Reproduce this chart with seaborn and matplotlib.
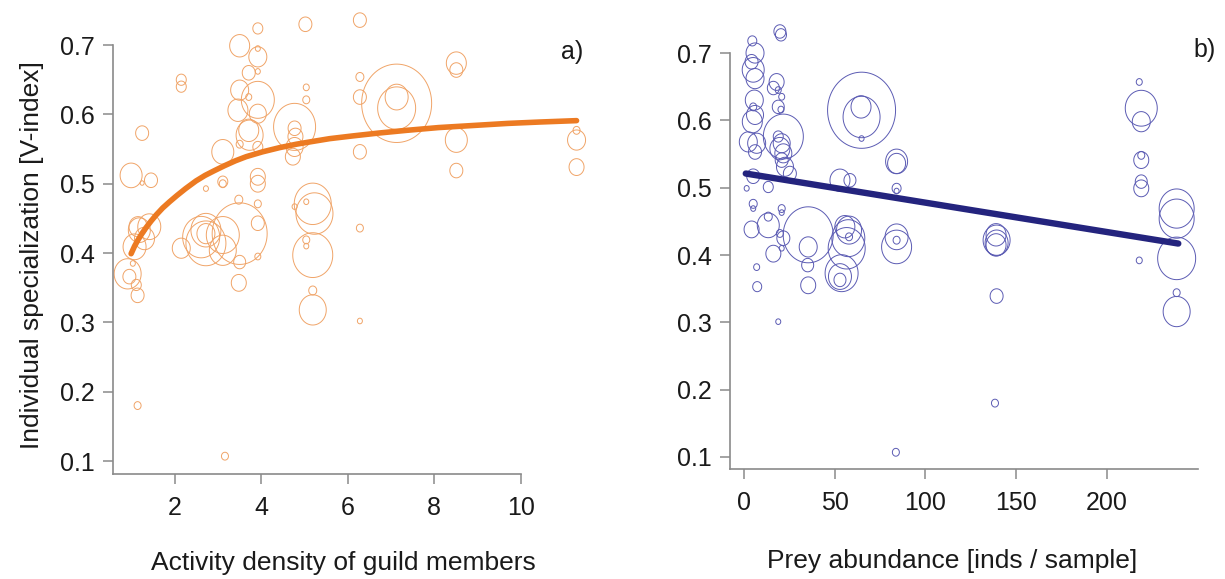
import numpy as np
import pandas as pd
import matplotlib
matplotlib.use("Agg")
import matplotlib.pyplot as plt
from matplotlib.path import Path
import seaborn as sns

# ---- panel a: activity density of guild members ----
a_x = [3.92, 5.02, 3.50, 3.92, 3.92, 3.71, 3.92, 2.15, 2.15, 3.50, 3.92, 3.71, 3.46, 3.92,
       5.04, 5.04, 4.77, 4.77, 4.79, 4.77, 4.73, 3.71, 3.73, 3.50, 3.92, 1.245, 3.11, 0.99,
       1.45, 1.245, 2.72, 3.11, 3.11, 3.92, 3.92, 3.48, 3.92, 5.19, 5.04, 5.23, 4.77, 1.18,
       1.15, 1.30, 1.41, 2.72, 2.72, 2.61, 2.72, 3.11, 3.11, 3.50, 3.92, 3.92, 2.15, 3.50,
       3.48, 5.04, 5.04, 5.19, 5.19, 5.19, 0.91, 0.95, 1.03, 1.11, 1.14, 1.07,
       6.28, 6.28, 6.28, 7.13, 7.13, 7.13, 6.28, 8.51, 8.51, 8.51, 8.51, 6.28, 6.28,
       11.29, 11.29, 11.29, 1.14, 3.16]
a_y = [0.724, 0.730, 0.699, 0.683, 0.695, 0.660, 0.662, 0.650, 0.640, 0.635, 0.621, 0.625, 0.606, 0.601,
       0.639, 0.621, 0.582, 0.580, 0.568, 0.553, 0.539, 0.577, 0.570, 0.557, 0.553, 0.573, 0.546, 0.512,
       0.505, 0.501, 0.493, 0.503, 0.500, 0.510, 0.500, 0.477, 0.471, 0.471, 0.474, 0.457, 0.467, 0.433,
       0.438, 0.421, 0.438, 0.433, 0.428, 0.423, 0.414, 0.426, 0.404, 0.428, 0.443, 0.395, 0.407, 0.387,
       0.357, 0.419, 0.410, 0.397, 0.346, 0.318, 0.370, 0.366, 0.385, 0.354, 0.339, 0.409,
       0.736, 0.654, 0.625, 0.616, 0.625, 0.609, 0.546, 0.674, 0.664, 0.563, 0.519, 0.436, 0.302,
       0.577, 0.563, 0.524, 0.180, 0.107]
# circle diameter (bubble size) per individual
a_weight = [10, 13, 20, 18, 5, 13, 5, 10, 10, 18, 33, 6, 20, 17,
            6, 7, 42, 13, 15, 17, 15, 20, 27, 7, 10, 13, 22, 22,
            13, 4, 5, 10, 7, 15, 15, 8, 7, 37, 5, 37, 5, 22,
            18, 20, 23, 30, 18, 37, 40, 33, 27, 55, 13, 6, 18, 12,
            15, 7, 5, 40, 8, 27, 27, 13, 5, 10, 13, 23,
            13, 8, 13, 70, 23, 38, 13, 20, 13, 22, 13, 7, 5,
            7, 18, 15, 7, 7]
a_curve_x = [0.99, 1.07, 1.15, 1.25, 1.34, 1.45, 1.57, 1.72, 1.88, 2.05, 2.25, 2.49, 2.70,
             2.92, 3.15, 3.40, 3.65, 4.03, 4.42, 4.81, 5.19, 5.58, 6.12, 6.70, 7.36, 8.10,
             8.90, 9.70, 10.44, 11.29]
a_curve_y = [0.399, 0.410, 0.419, 0.429, 0.437, 0.446, 0.455, 0.465, 0.474, 0.483, 0.493, 0.504, 0.512,
             0.519, 0.526, 0.533, 0.539, 0.546, 0.552, 0.557, 0.561, 0.565, 0.569, 0.573, 0.577, 0.581,
             0.584, 0.587, 0.589, 0.591]

# ---- panel b: prey abundance ----
b_x = [4.6, 19.8, 20.4, 6.1, 4.2, 5.1, 6.1, 18.0, 16.2, 18.9, 20.8, 5.7, 5.1, 18.9, 20.4,
       4.6, 6.1, 21.7, 18.9, 20.8, 19.8, 21.7, 20.8, 22.6, 25.3, 2.4, 7.0, 6.1, 1.5, 5.1,
       13.4, 64.8, 64.5, 64.8, 64.8, 84.1, 84.1, 52.9, 58.4, 84.1, 84.1, 5.1, 5.1, 20.8, 20.8,
       13.4, 13.4, 4.2, 35.4, 35.4, 19.8, 21.7, 20.8, 16.2, 7.0, 7.3, 35.1, 35.4, 57.9, 57.5,
       56.6, 57.9, 55.6, 52.9, 52.9, 53.8, 84.1, 84.1, 84.1, 18.9,
       217.8, 218.9, 218.9, 218.9, 218.9, 218.9, 218.9, 217.8, 238.4, 238.4, 238.4, 238.4, 238.4,
       139.2, 138.9, 138.9, 139.2, 139.2, 138.3, 83.7]
b_y = [0.718, 0.732, 0.727, 0.700, 0.687, 0.675, 0.662, 0.657, 0.648, 0.645, 0.635, 0.630, 0.620, 0.620, 0.616,
       0.598, 0.608, 0.576, 0.576, 0.566, 0.558, 0.551, 0.541, 0.531, 0.521, 0.568, 0.566, 0.553, 0.499, 0.517,
       0.501, 0.615, 0.620, 0.605, 0.573, 0.539, 0.536, 0.511, 0.511, 0.499, 0.495, 0.476, 0.469, 0.469, 0.463,
       0.457, 0.444, 0.438, 0.430, 0.412, 0.432, 0.425, 0.410, 0.402, 0.382, 0.353, 0.385, 0.355, 0.437, 0.425,
       0.410, 0.427, 0.442, 0.368, 0.363, 0.373, 0.412, 0.427, 0.422, 0.301,
       0.657, 0.618, 0.598, 0.548, 0.541, 0.509, 0.499, 0.392, 0.469, 0.454, 0.395, 0.344, 0.316,
       0.422, 0.415, 0.430, 0.418, 0.339, 0.180, 0.107]
b_weight = [9, 12, 11, 18, 13, 22, 18, 15, 12, 6, 6, 18, 7, 12, 6,
            20, 17, 40, 10, 17, 20, 17, 13, 17, 13, 18, 18, 13, 5, 13,
            10, 68, 20, 37, 5, 22, 18, 20, 12, 9, 5, 8, 5, 7, 5,
            8, 22, 15, 50, 18, 7, 13, 5, 15, 6, 9, 12, 15, 25, 33,
            37, 7, 20, 23, 12, 33, 30, 23, 7, 5,
            6, 32, 18, 7, 15, 12, 15, 6, 35, 35, 38, 7, 27,
            27, 20, 20, 23, 13, 7, 7]
b_line_x = [1.0, 120.0, 239.3]
b_line_y = [0.521, 0.469, 0.417]

yticks = [0.1, 0.2, 0.3, 0.4, 0.5, 0.6, 0.7]
a_xticks = [2, 4, 6, 8, 10]
b_xticks = [0, 50, 100, 150, 200]

sns.set_style("white")
plt.rcParams['font.family'] = ['Liberation Sans', 'DejaVu Sans']

df_a = pd.DataFrame({'x': a_x, 'y': a_y, 'area': np.array(a_weight, float) ** 2})
df_b = pd.DataFrame({'x': b_x, 'y': b_y, 'area': np.array(b_weight, float) ** 2})

# slightly tall ellipse marker, as in the original figure
t = np.linspace(0, 2 * np.pi, 90)
ellipse = Path(np.column_stack([np.cos(t), 1.12 * np.sin(t)]), closed=True)

fig = plt.figure(figsize=(12.25, 5.79), dpi=100)
ax_a = fig.add_axes([0.0922, 0.181, 0.3894, 0.813])
ax_b = fig.add_axes([0.5959, 0.1898, 0.3996, 0.7884])

grey = '#8a8a8a'


def bubbles(ax, df, col):
    amax = df['area'].max()
    sns.scatterplot(data=df, x='x', y='y', size='area', sizes=(0, 0.65 * amax),
                    size_norm=(0, amax), marker=ellipse, facecolor='none',
                    edgecolor=col, linewidth=0.7, legend=False, ax=ax, clip_on=False)


bubbles(ax_a, df_a, '#F0A468')
sns.lineplot(x=a_curve_x, y=a_curve_y, ax=ax_a, color='#EC7A22', linewidth=4.0,
             solid_capstyle='round', solid_joinstyle='round', zorder=5)
bubbles(ax_b, df_b, '#5B5BB3')
sns.lineplot(x=b_line_x, y=b_line_y, ax=ax_b, color='#24247E', linewidth=4.6,
             solid_capstyle='round', zorder=5)

ax_a.set_xlim(0.57, 11.6)
ax_a.set_ylim(0.081, 0.76)
ax_b.set_xlim(-7.7, 262)
ax_b.set_ylim(0.082, 0.76)

for ax, xt, xmax in [(ax_a, a_xticks, 10), (ax_b, b_xticks, 250)]:
    ax.set_xticks(xt)
    ax.set_yticks(yticks)
    ax.set_yticklabels([f"{v:.1f}" for v in yticks])
    for s in ['top', 'right']:
        ax.spines[s].set_visible(False)
    for s in ['left', 'bottom']:
        ax.spines[s].set_color(grey)
        ax.spines[s].set_linewidth(1.2)
    ax.spines['left'].set_bounds(ax.get_ylim()[0], 0.7)
    ax.spines['bottom'].set_bounds(ax.get_xlim()[0], xmax)
    ax.tick_params(axis='both', direction='out', length=7, width=1.1, color=grey,
                   labelsize=18, labelcolor='#1a1a1a', pad=6, left=True, bottom=True)
    ax.tick_params(axis='x', pad=9)
    ax.set_xlabel('')
    ax.set_ylabel('')

ax_a.set_xlabel('Activity density of guild members', fontsize=19, color='#1a1a1a')
ax_a.xaxis.set_label_coords(0.484, -0.189)
ax_a.xaxis.label.set_va('center')
ax_a.set_ylabel('Individual specialization [V-index]', fontsize=19, color='#1a1a1a')
ax_a.yaxis.set_label_coords(-0.170, 0.466)
ax_a.yaxis.label.set_va('center')

ax_b.set_xlabel('Prey abundance [inds / sample]', fontsize=19, color='#1a1a1a')
ax_b.xaxis.set_label_coords(0.4535, -0.201)
ax_b.xaxis.label.set_va('center')

ax_a.text(0.962, 0.897, 'a)', transform=ax_a.transAxes, fontsize=18,
          ha='center', va='center', color='#1a1a1a')
ax_b.text(0.970, 0.918, 'b)', transform=ax_b.transAxes, fontsize=18,
          ha='center', va='center', color='#1a1a1a')

fig.savefig('out.png', dpi=100)
